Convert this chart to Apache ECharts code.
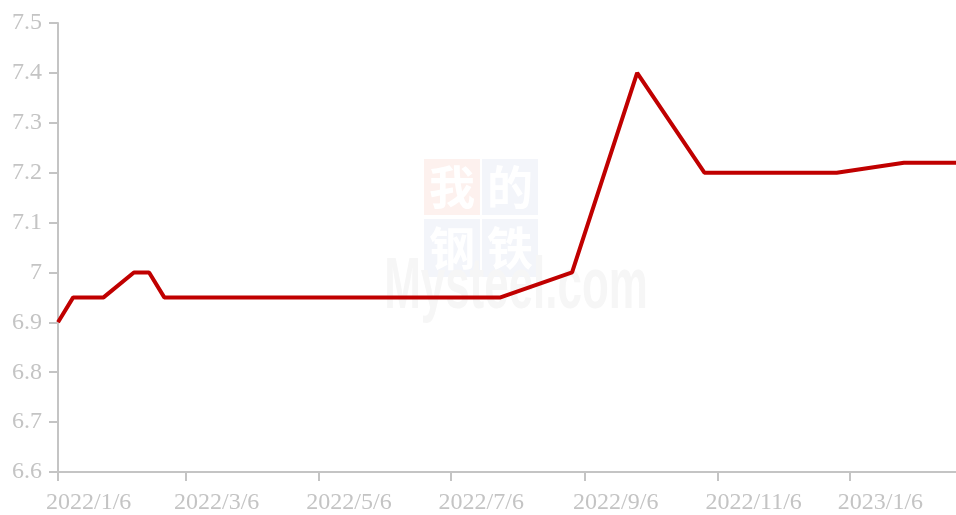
<!DOCTYPE html>
<html>
<head>
<meta charset="utf-8">
<script src="https://cdn.jsdelivr.net/npm/echarts@6/dist/echarts.min.js"></script>
<style>
  html, body { margin: 0; padding: 0; background: #fff; }
  #myChart { width: 956px; height: 515px; }
</style>
</head>
<body>
<div id="myChart"></div>
<script>
// 数据
const startDate = [2022, 1, 6];
const endDate = [2023, 2, 24];
const pointDates = ['2022/1/6', '2022/1/13', '2022/1/27', '2022/2/10', '2022/2/17', '2022/2/24',
  '2022/7/29', '2022/8/31', '2022/9/30', '2022/10/31', '2022/11/30', '2022/12/31',
  '2023/1/31', '2023/2/24'];
const pointValues = [6.9, 6.95, 6.95, 7.0, 7.0, 6.95, 6.95, 7.0, 7.4, 7.2, 7.2, 7.2, 7.22, 7.22];
const tickLabels = ['2022/1/6', '2022/3/6', '2022/5/6', '2022/7/6', '2022/9/6', '2022/11/6', '2023/1/6'];

// 每天一个类目
function fmt(d) {
  return d.getUTCFullYear() + '/' + (d.getUTCMonth() + 1) + '/' + d.getUTCDate();
}
let days = [];
let t = Date.UTC(startDate[0], startDate[1] - 1, startDate[2]);
const tEnd = Date.UTC(endDate[0], endDate[1] - 1, endDate[2]);
while (t <= tEnd) {
  days.push(fmt(new Date(t)));
  t += 86400000;
}
const showTick = (i, v) => tickLabels.indexOf(v) >= 0;

const grey = '#c4c4c4';
const labelFont = 'Liberation Serif';
const cjk = '"Noto Sans CJK SC"';

let myChart = echarts.init(document.getElementById('myChart'));
let option = {
  animation: false,
  grid: { left: 58, right: 0, top: 23, bottom: 43 },
  graphic: [
    { type: 'rect', z: 0, silent: true, shape: { x: 424, y: 159, width: 56, height: 56 }, style: { fill: '#fdf1ee' } },
    { type: 'rect', z: 0, silent: true, shape: { x: 482, y: 159, width: 56, height: 56 }, style: { fill: '#f3f5fa' } },
    { type: 'rect', z: 0, silent: true, shape: { x: 424, y: 219, width: 56, height: 58 }, style: { fill: '#f3f5fa' } },
    { type: 'rect', z: 0, silent: true, shape: { x: 482, y: 219, width: 56, height: 58 }, style: { fill: '#f3f5fa' } },
    { type: 'text', z: 1, silent: true, x: 452, y: 187, style: { text: '我', fill: '#ffffff', font: 'bold 46px ' + cjk, align: 'center', verticalAlign: 'middle' } },
    { type: 'text', z: 1, silent: true, x: 510, y: 187, style: { text: '的', fill: '#ffffff', font: 'bold 46px ' + cjk, align: 'center', verticalAlign: 'middle' } },
    { type: 'text', z: 1, silent: true, x: 452, y: 248, style: { text: '钢', fill: '#ffffff', font: 'bold 46px ' + cjk, align: 'center', verticalAlign: 'middle' } },
    { type: 'text', z: 1, silent: true, x: 510, y: 248, style: { text: '铁', fill: '#ffffff', font: 'bold 46px ' + cjk, align: 'center', verticalAlign: 'middle' } },
    { type: 'text', z: 1, silent: true, x: 516, y: 252, scaleX: 0.61, style: { text: 'Mysteel.com', fill: '#f6f6f6', font: 'bold 72px "Liberation Sans"', align: 'center', verticalAlign: 'top' } }
  ],
  xAxis: {
    type: 'category',
    data: days,
    boundaryGap: false,
    axisLine: { lineStyle: { color: grey, width: 2 } },
    axisTick: { show: true, interval: showTick, length: 9, lineStyle: { color: grey, width: 2 } },
    axisLabel: {
      interval: showTick,
      color: grey,
      fontFamily: labelFont,
      fontSize: 24,
      margin: 19,
      align: 'left',
      padding: [0, 0, 0, -12]
    },
    splitLine: { show: false }
  },
  yAxis: {
    type: 'value',
    min: 6.6,
    max: 7.5,
    interval: 0.1,
    axisLine: { show: true, lineStyle: { color: grey, width: 2 } },
    axisTick: { show: true, length: 9, lineStyle: { color: grey, width: 2 } },
    axisLabel: {
      color: grey,
      fontFamily: labelFont,
      fontSize: 24,
      margin: 16
    },
    splitLine: { show: false }
  },
  series: [
    {
      type: 'line',
      z: 5,
      symbol: 'none',
      data: pointDates.map((d, i) => [d, pointValues[i]]),
      lineStyle: { color: '#c00000', width: 4 }
    }
  ]
};
myChart.setOption(option);
</script>
</body>
</html>
